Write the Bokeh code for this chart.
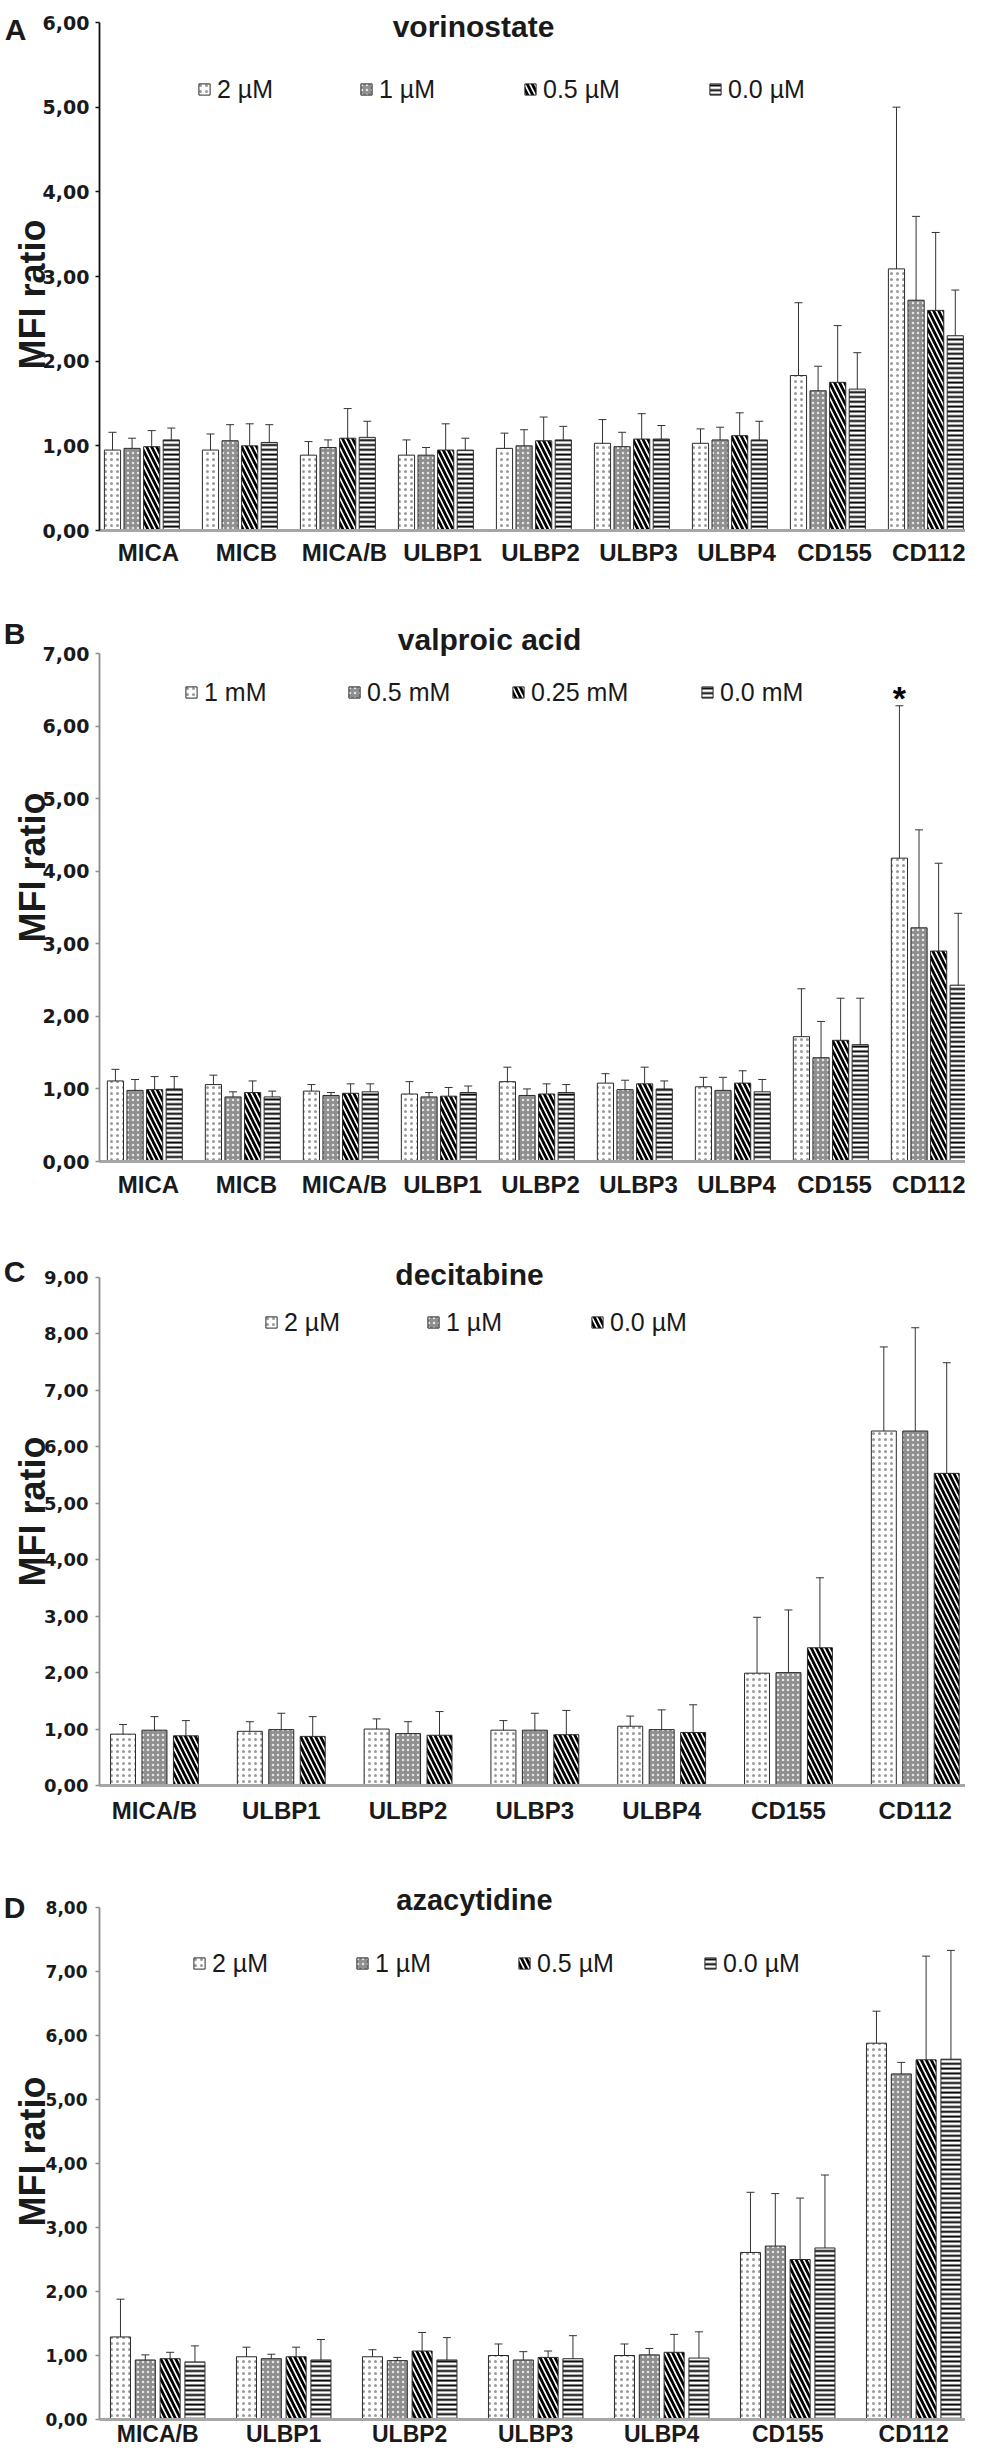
import math
from bokeh.plotting import figure
from bokeh.models import (Range1d, FixedTicker, ColumnDataSource, Whisker, TeeHead,
                          Legend, LegendItem, Label, LinearAxis)
from bokeh.layouts import column
from bokeh.embed import file_html
from bokeh.resources import INLINE
from bokeh.core.properties import value

# ---------------- data ----------------
cats_ab = ["MICA", "MICB", "MICA/B", "ULBP1", "ULBP2", "ULBP3", "ULBP4", "CD155", "CD112"]
cats_cd = ["MICA/B", "ULBP1", "ULBP2", "ULBP3", "ULBP4", "CD155", "CD112"]

# A vorinostate
vor_labels = ["2 µM", "1 µM", "0.5 µM", "0.0 µM"]
vor_2 = [0.95, 0.95, 0.89, 0.89, 0.97, 1.03, 1.03, 1.83, 3.09]
vor_2_err = [0.21, 0.19, 0.16, 0.18, 0.18, 0.28, 0.17, 0.86, 1.91]
vor_1 = [0.97, 1.06, 0.98, 0.89, 1.00, 0.99, 1.07, 1.65, 2.72]
vor_1_err = [0.12, 0.19, 0.09, 0.09, 0.19, 0.17, 0.15, 0.29, 0.99]
vor_05 = [0.99, 1.00, 1.09, 0.95, 1.06, 1.08, 1.12, 1.75, 2.60]
vor_05_err = [0.19, 0.26, 0.35, 0.31, 0.28, 0.30, 0.27, 0.67, 0.92]
vor_0 = [1.07, 1.04, 1.10, 0.95, 1.07, 1.08, 1.07, 1.67, 2.30]
vor_0_err = [0.14, 0.21, 0.19, 0.14, 0.16, 0.16, 0.22, 0.43, 0.54]

# B valproic acid
vpa_labels = ["1 mM", "0.5 mM", "0.25 mM", "0.0 mM"]
vpa_1 = [1.11, 1.06, 0.97, 0.93, 1.10, 1.08, 1.03, 1.72, 4.18]
vpa_1_err = [0.16, 0.13, 0.09, 0.17, 0.20, 0.13, 0.13, 0.66, 2.10]
vpa_05 = [0.98, 0.89, 0.91, 0.89, 0.91, 0.99, 0.98, 1.43, 3.22]
vpa_05_err = [0.15, 0.07, 0.04, 0.06, 0.09, 0.13, 0.18, 0.50, 1.35]
vpa_025 = [0.99, 0.95, 0.94, 0.90, 0.93, 1.07, 1.08, 1.67, 2.90]
vpa_025_err = [0.18, 0.16, 0.13, 0.12, 0.14, 0.23, 0.17, 0.58, 1.21]
vpa_0 = [1.00, 0.89, 0.96, 0.95, 0.95, 1.00, 0.96, 1.61, 2.43]
vpa_0_err = [0.17, 0.08, 0.11, 0.09, 0.11, 0.11, 0.17, 0.64, 0.99]
vpa_sig = ["", "", "", "", "", "", "", "", "*"]

# C decitabine
dec_labels = ["2 µM", "1 µM", "0.0 µM"]
dec_2 = [0.91, 0.96, 1.00, 0.98, 1.05, 1.99, 6.28]
dec_2_err = [0.17, 0.17, 0.18, 0.17, 0.18, 0.99, 1.49]
dec_1 = [0.98, 0.99, 0.92, 0.98, 0.99, 2.00, 6.28]
dec_1_err = [0.24, 0.29, 0.21, 0.30, 0.35, 1.11, 1.83]
dec_0 = [0.88, 0.87, 0.89, 0.90, 0.94, 2.44, 5.53]
dec_0_err = [0.27, 0.35, 0.42, 0.43, 0.49, 1.24, 1.96]

# D azacytidine
aza_labels = ["2 µM", "1 µM", "0.5 µM", "0.0 µM"]
aza_2 = [1.29, 0.98, 0.98, 1.00, 1.00, 2.61, 5.88]
aza_2_err = [0.59, 0.15, 0.11, 0.18, 0.18, 0.94, 0.50]
aza_1 = [0.93, 0.95, 0.92, 0.93, 1.01, 2.71, 5.40]
aza_1_err = [0.08, 0.07, 0.05, 0.13, 0.10, 0.82, 0.18]
aza_05 = [0.95, 0.98, 1.07, 0.97, 1.05, 2.50, 5.62]
aza_05_err = [0.10, 0.15, 0.29, 0.10, 0.28, 0.96, 1.62]
aza_0 = [0.90, 0.93, 0.93, 0.95, 0.96, 2.68, 5.63]
aza_0_err = [0.25, 0.32, 0.35, 0.36, 0.41, 1.14, 1.70]

ytick_labels = ["0,00", "1,00", "2,00", "3,00", "4,00", "5,00", "6,00", "7,00", "8,00", "9,00"]
y_title = "MFI ratio"

# ---------------- styles ----------------
FONT = "Liberation Sans"
TICK_FONT = "DejaVu Sans"
INK = "#1a1a1a"
STYLES = {
    "dots": dict(fill_color="white", hatch_pattern="dot", hatch_color="#9a9a9a",
                 hatch_scale=6, hatch_weight=1.3),
    "grey": dict(fill_color="#8f8f8f", hatch_pattern="dot", hatch_color="#e6e6e6",
                 hatch_scale=5, hatch_weight=1.3),
    "diag": dict(fill_color="white", hatch_pattern="left_diagonal_line", hatch_color="black",
                 hatch_scale=10, hatch_weight=2.8),
    "horiz": dict(fill_color="white", hatch_pattern="horizontal_line", hatch_color="black",
                  hatch_scale=4.8, hatch_weight=2),
}

PAGE_LEFT = 8
FIG_W = 965
AXIS_X = 107  # page x of the y axis


def make_panel(cfg):
    cats = cfg["cats"]
    n = len(cats)
    ymax = cfg["ymax"]
    ppu = cfg["ppu"]
    ppu_y = (cfg["zero_y"] - cfg["top_y"]) / ymax
    fig_bot = cfg["fig_top"] + cfg["height"]

    x0 = (PAGE_LEFT - AXIS_X) / ppu
    x1 = (PAGE_LEFT + FIG_W - AXIS_X) / ppu
    y0 = -(fig_bot - cfg["zero_y"]) / ppu_y
    y1 = (cfg["zero_y"] - cfg["fig_top"]) / ppu_y

    p = figure(width=FIG_W, height=cfg["height"], x_range=Range1d(x0, x1),
               y_range=Range1d(y0, y1), output_backend="svg", toolbar_location=None,
               x_axis_location=None, y_axis_location=None, min_border=0)
    p.outline_line_color = None
    p.xgrid.visible = False
    p.ygrid.visible = False
    p.background_fill_color = "white"
    p.border_fill_color = "white"

    renderers = []
    for j, (vals, errs, style) in enumerate(zip(cfg["vals"], cfg["errs"], cfg["styles"])):
        xs = [i + cfg["bar_off"] + cfg["bar_w"] / 2 + j * cfg["pitch"] for i in range(n)]
        src = ColumnDataSource(dict(
            x=xs, top=vals,
            upper=[v + e for v, e in zip(vals, errs)],
            lower=[v - e for v, e in zip(vals, errs)]))
        r = p.vbar(x="x", top="top", bottom=0, width=cfg["bar_w"], source=src,
                   line_color="#2a2a2a", line_width=1, **STYLES[style])
        renderers.append(r)
        w = Whisker(base="x", upper="upper", lower="lower", source=src, dimension="height",
                    line_color="#333333", line_width=1,
                    upper_head=TeeHead(size=8, line_color="#333333", line_width=1),
                    lower_head=TeeHead(size=8, line_color="#333333", line_width=1))
        p.add_layout(w)
        if cfg.get("sig") and j == 0:
            sx, sy, st = [], [], []
            for i, s in enumerate(cfg["sig"]):
                if s:
                    sx.append(xs[i])
                    sy.append(vals[i] + errs[i] + 0.11)
                    st.append(s)
            p.text(x=sx, y=sy, text=st, text_font=value(FONT), text_font_size="34px",
                   text_font_style="bold", text_align="center", text_baseline="middle",
                   text_color="black")

    # y axis (fixed at x = 0, its line stops at the top tick)
    yt = list(range(ymax + 1))
    ya = LinearAxis(fixed_location=0, bounds=(0, ymax))
    ya.ticker = FixedTicker(ticks=yt)
    ya.major_label_overrides = {k: ytick_labels[k] for k in yt}
    ya.major_tick_line_color = cfg["axis_color"]
    ya.major_tick_line_width = 1.5
    ya.minor_tick_line_color = None
    ya.major_tick_out = 4
    ya.major_tick_in = 0
    ya.axis_line_color = cfg["axis_color"]
    ya.axis_line_width = 1.8
    ya.major_label_text_font = TICK_FONT
    ya.major_label_text_font_style = "bold"
    ya.major_label_text_font_size = cfg["tick_size"]
    ya.major_label_text_color = INK
    ya.major_label_standoff = cfg["ystandoff"]
    p.add_layout(ya, "left")

    # x axis (fixed at y = 0)
    xt = [round(i + cfg["tick_off"], 4) for i in range(n)]
    xa = LinearAxis(fixed_location=0, bounds=(0, x1))
    xa.ticker = FixedTicker(ticks=xt)
    xa.major_label_overrides = {t: c for t, c in zip(xt, cats)}
    xa.major_tick_line_color = None
    xa.minor_tick_line_color = None
    xa.major_tick_out = 0
    xa.major_tick_in = 0
    xa.axis_line_color = "#a6a6a6"
    xa.axis_line_width = 3
    xa.major_label_text_font = FONT
    xa.major_label_text_font_style = "bold"
    xa.major_label_text_font_size = cfg["cat_size"]
    xa.major_label_text_color = INK
    xa.major_label_standoff = cfg["xstandoff"]
    p.add_layout(xa, "below")

    def to_data(px, py):
        return (px - AXIS_X) / ppu, (cfg["zero_y"] - py) / ppu_y

    # y axis title (rotated text, baseline at given page x)
    gx, gy = to_data(cfg["ylab_x"], cfg["ylab_y"])
    p.add_layout(Label(x=gx, y=gy, text=y_title, angle=math.pi / 2, text_font=FONT,
                       text_font_style="bold", text_font_size="36px", text_align="center",
                       text_baseline="alphabetic", text_color=INK))

    tx, ty = to_data(*cfg["title_xy"])
    p.add_layout(Label(x=tx, y=ty, text=cfg["title"], text_font=FONT, text_font_style="bold",
                       text_font_size=cfg["title_size"], text_align="center",
                       text_baseline="alphabetic", text_color=INK))
    lx, ly = to_data(*cfg["letter_xy"])
    p.add_layout(Label(x=lx, y=ly, text=cfg["letter"], text_font=FONT, text_font_style="bold",
                       text_font_size="30px", text_align="center",
                       text_baseline="alphabetic", text_color=INK))

    # legend: one entry per item so each entry sits at its own position
    row_h = 30
    for r, lab, lxp in zip(renderers, cfg["labels"], cfg["legend_xs"]):
        leg = Legend(items=[LegendItem(label=lab, renderers=[r])],
                     location=(lxp - PAGE_LEFT, fig_bot - cfg["legend_y"] - row_h / 2),
                     orientation="horizontal", glyph_width=14, glyph_height=14,
                     label_standoff=6, padding=0, margin=0, spacing=0,
                     border_line_color=None, background_fill_alpha=0,
                     label_text_font=FONT, label_text_font_size="25px",
                     label_height=row_h, label_text_color=INK)
        p.add_layout(leg)
    return p


panels = [
    dict(letter="A", title="vorinostate", cats=cats_ab, labels=vor_labels,
         vals=[vor_2, vor_1, vor_05, vor_0], errs=[vor_2_err, vor_1_err, vor_05_err, vor_0_err],
         styles=["dots", "grey", "diag", "horiz"], ymax=6,
         fig_top=8, height=592, top_y=30, zero_y=538,
         ppu=98.0, bar_off=0.05, bar_w=0.165, pitch=0.2, tick_off=0.5,
         axis_color="#111111", tick_size="19px", ystandoff=6, cat_size="24px",
         title_size="30px", title_xy=(481, 34), letter_xy=(23, 37), ylab_x=40, ylab_y=302,
         legend_y=97, legend_xs=[205, 367, 531, 716], xstandoff=8),
    dict(letter="B", title="valproic acid", cats=cats_ab, labels=vpa_labels,
         vals=[vpa_1, vpa_05, vpa_025, vpa_0],
         errs=[vpa_1_err, vpa_05_err, vpa_025_err, vpa_0_err], sig=vpa_sig,
         styles=["dots", "grey", "diag", "horiz"], ymax=7,
         fig_top=600, height=640, top_y=661, zero_y=1169,
         ppu=98.0, bar_off=0.08, bar_w=0.165, pitch=0.2, tick_off=0.5,
         axis_color="#8c8c8c", tick_size="19px", ystandoff=6, cat_size="24px",
         title_size="30px", title_xy=(497, 647), letter_xy=(22, 641), ylab_x=40, ylab_y=875,
         legend_y=700, legend_xs=[192, 355, 519, 708], xstandoff=9),
    dict(letter="C", title="decitabine", cats=cats_cd, labels=dec_labels,
         vals=[dec_2, dec_1, dec_0], errs=[dec_2_err, dec_1_err, dec_0_err],
         styles=["dots", "grey", "diag"], ymax=9,
         fig_top=1240, height=622, top_y=1285, zero_y=1793,
         ppu=126.8, bar_off=0.087, bar_w=0.197, pitch=0.248, tick_off=0.4335,
         axis_color="#8c8c8c", tick_size="18px", ystandoff=7, cat_size="24px",
         title_size="30px", title_xy=(477, 1282), letter_xy=(22, 1279), ylab_x=40, ylab_y=1519,
         legend_y=1330, legend_xs=[272, 434, 598], xstandoff=11),
    dict(letter="D", title="azacytidine", cats=cats_cd, labels=aza_labels,
         vals=[aza_2, aza_1, aza_05, aza_0], errs=[aza_2_err, aza_1_err, aza_05_err, aza_0_err],
         styles=["dots", "grey", "diag", "horiz"], ymax=8,
         fig_top=1862, height=592, top_y=1915, zero_y=2427,
         ppu=126.0, bar_off=0.087, bar_w=0.159, pitch=0.197, tick_off=0.462,
         axis_color="#8c8c8c", tick_size="17px", ystandoff=8, cat_size="23px",
         title_size="29px", title_xy=(482, 1907), letter_xy=(22, 1915), ylab_x=40, ylab_y=2159,
         legend_y=1971, legend_xs=[200, 363, 525, 711], xstandoff=1),
]

figs = [make_panel(c) for c in panels]
layout = column(*figs, spacing=0)

open("out.html", "w").write(file_html(layout, INLINE))
